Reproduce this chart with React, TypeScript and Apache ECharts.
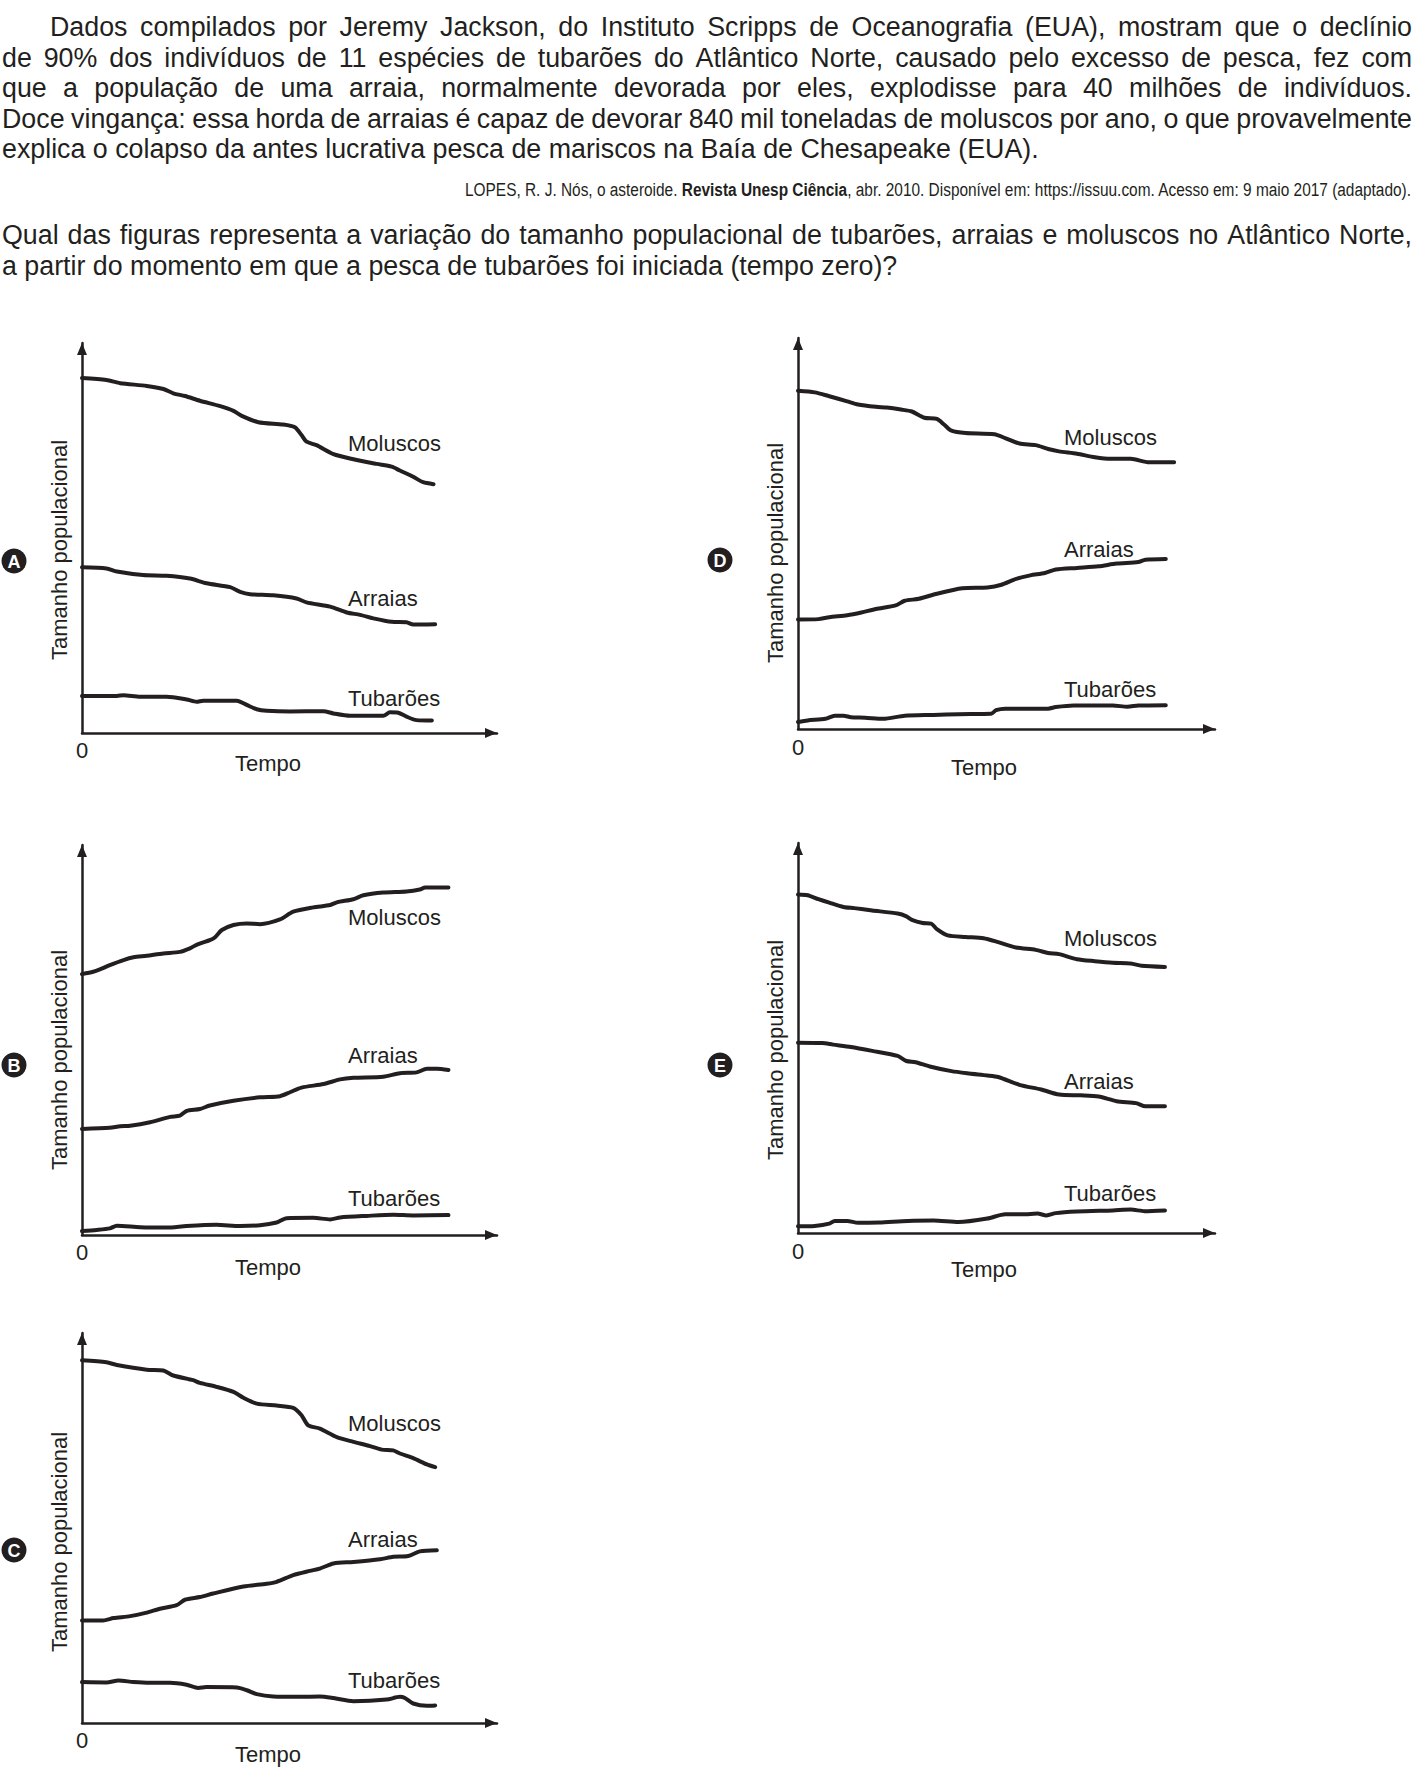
import React, { useEffect, useRef } from "react";
import * as echarts from "echarts";

const INK = "#231f20";
const FONT = "'Liberation Sans', Arial, Helvetica, sans-serif";
const NARROW = "'Liberation Sans Narrow', 'Liberation Sans', Arial, sans-serif";

// ---------- texts ----------
const paragraphLines = [
  "Dados compilados por Jeremy Jackson, do Instituto Scripps de Oceanografia (EUA), mostram que o declínio",
  "de 90% dos indivíduos de 11 espécies de tubarões do Atlântico Norte, causado pelo excesso de pesca, fez com",
  "que a população de uma arraia, normalmente devorada por eles, explodisse para 40 milhões de indivíduos.",
  "Doce vingança: essa horda de arraias é capaz de devorar 840 mil toneladas de moluscos por ano, o que provavelmente",
  "explica o colapso da antes lucrativa pesca de mariscos na Baía de Chesapeake (EUA).",
];
const citationParts = [
  { text: "LOPES, R. J. Nós, o asteroide. ", bold: false },
  { text: "Revista Unesp Ciência", bold: true },
  { text: ", abr. 2010. Disponível em: https://issuu.com. Acesso em: 9 maio 2017 (adaptado).", bold: false },
];
const questionLines = [
  "Qual das figuras representa a variação do tamanho populacional de tubarões, arraias e moluscos no Atlântico Norte,",
  "a partir do momento em que a pesca de tubarões foi iniciada (tempo zero)?",
];
const speciesLabels = ["Moluscos", "Arraias", "Tubarões"];
const xAxisName = "Tempo";
const yAxisName = "Tamanho populacional";
const originLabel = "0";

// ---------- data (time, population) ----------
const aMoluscos = [[0,91],[5.9,90.5],[9.2,89.7],[15.6,89],[19.6,88.2],[22,87.1],[24.8,86.4],[28.4,85.2],[33.3,83.8],[36.5,82.6],[38.5,81.3],[42.5,79.7],[48.5,79.1],[51.3,78.4],[52.9,76.4],[54.1,74.7],[56.5,73.8],[60.6,71.5],[65.4,70.2],[71,69],[74.6,68.3],[76.6,67.3],[79.8,65.7],[82.2,64.3],[84.7,63.8]];
const aArraias = [[0,42.5],[5.9,42.2],[8.4,41.4],[14.7,40.5],[20.4,40.3],[26,39.6],[30,38.4],[35.7,37.4],[38.1,36.2],[40.5,35.6],[46.1,35.3],[51.7,34.5],[54.1,33.5],[59.8,32.4],[63.8,30.9],[67,30.3],[70.2,29.4],[74.6,28.5],[78.2,28.4],[79.8,27.8],[85.1,27.9]];
const aTubaroes = [[0,9.5],[8.4,9.5],[10,9.7],[14,9.3],[20.4,9.3],[25.2,8.6],[27.6,8],[29.2,8.3],[37.3,8.3],[39.7,7.2],[42.1,6.1],[44.5,5.7],[50.1,5.5],[58.2,5.6],[60.6,5],[64.6,4.4],[72.6,4.4],[74.2,5.3],[76.2,5.2],[78.2,4.2],[80.6,3.3],[84.3,3.2]];

const bMoluscos = [[0,66.9],[2.7,67.5],[4.3,68.1],[6.7,69.2],[10,70.5],[12.4,71.2],[15.6,71.6],[19.6,72.2],[23.6,72.6],[26,73.5],[27.6,74.4],[30.8,75.6],[32,76.3],[33.7,78.2],[36.5,79.5],[39.7,79.9],[42.9,79.7],[47.7,80.9],[50.9,82.9],[55.7,84],[59.8,84.6],[61.4,85.3],[65.4,86.1],[67.8,87.1],[72.6,87.8],[78.2,88.1],[81.4,88.6],[82.7,89.1],[88.3,89.1]];
const bArraias = [[0,27.2],[6.7,27.5],[9.2,27.9],[11.6,28],[16.4,28.9],[21.2,30.3],[23.6,30.6],[25.2,31.8],[28.4,32.3],[30.8,33.2],[36.5,34.4],[42.9,35.3],[47.7,35.6],[50.1,36.6],[52.9,37.8],[58.2,38.7],[62.2,39.9],[65.4,40.3],[72.6,40.6],[76.6,41.5],[80.6,41.7],[83.1,42.6],[85.5,42.6],[88.3,42.3]];
const bTubaroes = [[0,1],[3.5,1.3],[6.7,1.7],[8.4,2.4],[14,2],[20.4,1.9],[25.2,2.3],[32.4,2.6],[38.1,2.3],[42.9,2.5],[46.9,3.2],[49.3,4.3],[55.7,4.4],[59.8,4],[62.2,4.5],[68.6,4.9],[75,5.2],[79.8,5],[88.3,5.1]];

const cMoluscos = [[0,93],[5.9,92.5],[8.4,91.8],[15.6,90.6],[19.6,90.4],[22,89.1],[26.8,87.9],[28.4,87.2],[32.4,86.2],[36.5,84.9],[38.9,83.4],[42.1,81.9],[46.9,81.4],[50.9,80.8],[52.9,78.9],[54.5,76.3],[57.3,75.5],[61.4,73.3],[65.4,72.1],[69.4,71],[72.2,70.1],[75,69.9],[76.6,69.1],[79.8,67.9],[83.1,66.3],[85.1,65.6]];
const cArraias = [[0,26.3],[5.1,26.3],[7.6,26.9],[11.6,27.4],[15.6,28.3],[18.8,29.3],[22.8,30.2],[24.8,31.6],[28.4,32.3],[31.6,33.2],[38.9,35],[44.5,35.7],[46.9,36.2],[50.9,37.9],[54.9,39],[57.3,39.6],[60.6,40.9],[65.4,41.3],[71.8,42],[75,42.6],[78.6,42.8],[81.4,44],[85.5,44.3]];
const cTubaroes = [[0,10.5],[5.9,10.4],[8.8,10.9],[12.4,10.5],[16.4,10.3],[21.2,10.3],[25.2,9.8],[28,9],[30,9.2],[37.3,9.1],[39.7,8.4],[42.1,7.4],[46.1,6.8],[52.5,6.7],[57.3,6.8],[60.6,6.4],[65.4,5.6],[73.4,6],[76.6,6.7],[77.8,6.4],[79.8,5],[83.1,4.4],[85.1,4.5]];

const dMoluscos = [[0,86.5],[4,86.1],[7.5,85.1],[11.8,83.8],[14.4,83],[18.7,82.4],[21.3,82.2],[24.7,81.7],[27.3,81.2],[30.3,79.6],[33.3,79.3],[35.1,77.8],[36.8,76.3],[40.2,75.7],[47.1,75.4],[49.7,74.4],[53.1,73],[57,72.6],[60,71.6],[62.6,71],[66.9,70.4],[71.2,69.5],[75.1,69.1],[79.8,69.1],[84.2,68.2],[90.2,68.2]];
const dArraias = [[0,28],[4.9,28.1],[7.5,28.6],[11.8,29.1],[15.2,29.8],[18.7,30.7],[23.4,31.6],[25.6,32.8],[29,33.3],[33.3,34.6],[39.4,36],[45.4,36.2],[48.8,36.9],[52.3,38.4],[55.7,39.3],[59.2,39.9],[61.8,40.8],[66.9,41.2],[72.1,41.6],[76.4,42.3],[81.6,42.7],[83.3,43.3],[88.2,43.5]];
const dTubaroes = [[0,1.8],[2.3,2.2],[6.6,2.6],[8.8,3.4],[10.9,3.4],[12.7,3],[16.1,2.9],[20.4,2.6],[25.6,3.4],[32.5,3.6],[38.5,3.8],[46.3,3.9],[47.5,4.8],[49.7,5.2],[60,5.2],[61.8,5.6],[66.1,6],[75.5,6],[79,5.7],[81.6,6],[88.2,6.1]];

const eMoluscos = [[0,86.8],[2.3,86.6],[4.9,85.6],[7.5,84.7],[10.9,83.6],[13.5,83.3],[17.8,82.7],[23.9,81.9],[26,81.2],[27.3,80.3],[29.9,79.5],[32,79.3],[33.3,77.9],[35.9,76.3],[40.2,75.9],[44.5,75.6],[48,74.6],[52.3,73.2],[57,72.6],[60,71.8],[62.6,71.5],[66.9,70.2],[71.2,69.7],[75.5,69.3],[79.8,69.1],[82.4,68.5],[88,68.2]];
const eArraias = [[0,48.8],[5.8,48.7],[8.4,48.3],[12.7,47.7],[17.8,46.7],[23.9,45.4],[26,44.1],[28.2,43.8],[31.6,42.7],[36.8,41.5],[41.1,40.9],[45.4,40.4],[48,40],[53.1,38],[58.3,36.8],[62.6,35.5],[67.8,35.3],[72.1,35],[76.4,33.8],[81.1,33.3],[83.3,32.5],[88,32.5]];
const eTubaroes = [[0,1.7],[4,1.8],[7.5,2.4],[8.8,3.1],[11.8,3.1],[14.4,2.6],[19.5,2.7],[26.4,3.1],[32.5,3.2],[38.5,2.8],[45.4,3.7],[49.7,4.8],[54,4.8],[57.4,5],[59.6,4.5],[61.8,5.1],[66.9,5.5],[75.5,5.8],[79.8,6],[83.1,5.6],[88,5.8]];

// ---------- layout ----------
const panels = [
  { letter: "A", left: 82, top: 343, width: 415, height: 390, lines: [aMoluscos, aArraias, aTubaroes], labelX: 348, labelY: [443, 598, 698], zeroY: 750, tempoX: 268, tempoY: 763, yNameX: 59, yNameY: 550, circleX: 14, circleY: 561 },
  { letter: "B", left: 82, top: 845, width: 415, height: 390, lines: [bMoluscos, bArraias, bTubaroes], labelX: 348, labelY: [917, 1055, 1198], zeroY: 1252, tempoX: 268, tempoY: 1267, yNameX: 59, yNameY: 1060, circleX: 14, circleY: 1065 },
  { letter: "C", left: 82, top: 1333, width: 415, height: 390, lines: [cMoluscos, cArraias, cTubaroes], labelX: 348, labelY: [1423, 1539, 1680], zeroY: 1740, tempoX: 268, tempoY: 1754, yNameX: 59, yNameY: 1542, circleX: 14, circleY: 1550 },
  { letter: "D", left: 798, top: 338, width: 417, height: 391, lines: [dMoluscos, dArraias, dTubaroes], labelX: 1064, labelY: [437, 549, 689], zeroY: 747, tempoX: 984, tempoY: 767, yNameX: 775, yNameY: 553, circleX: 720, circleY: 560 },
  { letter: "E", left: 798, top: 843, width: 417, height: 390, lines: [eMoluscos, eArraias, eTubaroes], labelX: 1064, labelY: [938, 1081, 1193], zeroY: 1251, tempoX: 984, tempoY: 1269, yNameX: 775, yNameY: 1050, circleX: 720, circleY: 1065 },
];

const W = 1418;
const H = 1779;

function makeMeasurer() {
  const ctx = document.createElement("canvas").getContext("2d") as CanvasRenderingContext2D;
  return (t: string, size: number, bold: boolean, family: string) => {
    ctx.font = `${bold ? "bold " : ""}${size}px ${family}`;
    return ctx.measureText(t).width;
  };
}

function txt(text: string, x: number, y: number, size: number, opts: any = {}) {
  return {
    type: "text",
    x,
    y,
    scaleX: opts.scaleX ?? 1,
    rotation: opts.rotation ?? 0,
    silent: true,
    style: {
      text,
      x: 0,
      y: 0,
      fill: opts.fill ?? INK,
      fontSize: size,
      fontFamily: opts.family ?? FONT,
      fontWeight: opts.bold ? "bold" : "normal",
      align: opts.align ?? "left",
      verticalAlign: "middle",
    },
  };
}

function justify(measure: any, text: string, x0: number, x1: number, y: number, size: number) {
  const words = text.split(" ");
  const ws = words.map((w) => measure(w, size, false, FONT));
  const sum = ws.reduce((a: number, b: number) => a + b, 0);
  let gap = (x1 - x0 - sum) / (words.length - 1);
  let scale = 1;
  const minGap = size * 0.16;
  if (gap < minGap) {
    gap = minGap;
    scale = (x1 - x0) / (sum + gap * (words.length - 1));
  }
  let cur = x0;
  return words.map((w, i) => {
    const el = txt(w, cur, y, size, { scaleX: scale });
    cur += (ws[i] + gap) * scale;
    return el;
  });
}

export default function App() {
  const ref = useRef<HTMLDivElement>(null);
  useEffect(() => {
    document.body.style.margin = "0";
    if (!ref.current) return;
    const chart = echarts.init(ref.current, null, { renderer: "svg", width: W, height: H });
    const measure = makeMeasurer();

    const PSIZE = 26.8;
    const graphics: any[] = [];
    const paraX0 = 2;
    const paraX1 = 1412;
    const paraMid0 = 27;
    const paraStep = 30.5;
    paragraphLines.forEach((line, i) => {
      const y = paraMid0 + paraStep * i;
      if (i === paragraphLines.length - 1) graphics.push(txt(line, paraX0, y, PSIZE));
      else graphics.push(...justify(measure, line, i === 0 ? 50 : paraX0, paraX1, y, PSIZE));
    });

    // citation (right aligned, bold journal name)
    const CSIZE = 18;
    const citLeft = 465;
    const cw = citationParts.map((p) => measure(p.text, CSIZE, p.bold, NARROW));
    const ctotal = cw.reduce((a, b) => a + b, 0);
    const cscale = (paraX1 - citLeft) / ctotal;
    let cx = citLeft;
    citationParts.forEach((p, i) => {
      graphics.push(txt(p.text, cx, 190, CSIZE, { bold: p.bold, family: NARROW, scaleX: cscale }));
      cx += cw[i] * cscale;
    });

    graphics.push(...justify(measure, questionLines[0], paraX0, paraX1, 235, PSIZE));
    graphics.push(txt(questionLines[1], paraX0, 266, PSIZE));

    const LSIZE = 22;
    panels.forEach((p) => {
      speciesLabels.forEach((s, k) => graphics.push(txt(s, p.labelX, p.labelY[k], LSIZE)));
      graphics.push(txt(originLabel, p.left, p.zeroY, LSIZE, { align: "center" }));
      graphics.push(txt(xAxisName, p.tempoX, p.tempoY, LSIZE, { align: "center" }));
      graphics.push(txt(yAxisName, p.yNameX, p.yNameY, LSIZE, { align: "center", rotation: Math.PI / 2 }));
      graphics.push({ type: "circle", silent: true, shape: { cx: p.circleX, cy: p.circleY, r: 12.5 }, style: { fill: INK } });
      graphics.push(txt(p.letter, p.circleX, p.circleY + 0.5, 18, { align: "center", bold: true, fill: "#ffffff" }));
    });

    const axisCommon = () => ({
      type: "value",
      min: 0,
      max: 100,
      axisLine: {
        show: true,
        onZero: false,
        symbol: ["none", "triangle"],
        symbolSize: [10, 12],
        symbolOffset: [0, -6],
        lineStyle: { color: INK, width: 2.5 },
      },
      axisTick: { show: false },
      axisLabel: { show: false },
      splitLine: { show: false },
    });

    const series: any[] = [];
    panels.forEach((p, gi) => {
      p.lines.forEach((data, k) => {
        series.push({
          type: "line",
          name: `${p.letter} ${speciesLabels[k]}`,
          xAxisIndex: gi,
          yAxisIndex: gi,
          data,
          smooth: 0.25,
          showSymbol: false,
          silent: true,
          lineStyle: { color: INK, width: 4, cap: "round", join: "round" },
        });
      });
    });

    chart.setOption({
      animation: false,
      backgroundColor: "#ffffff",
      grid: panels.map((p) => ({ left: p.left, top: p.top, width: p.width, height: p.height })),
      xAxis: panels.map((_, i) => ({ ...axisCommon(), gridIndex: i })),
      yAxis: panels.map((_, i) => ({ ...axisCommon(), gridIndex: i })),
      series,
      graphic: graphics,
    });
    return () => chart.dispose();
  }, []);
  return <div ref={ref} style={{ width: W, height: H }} />;
}
